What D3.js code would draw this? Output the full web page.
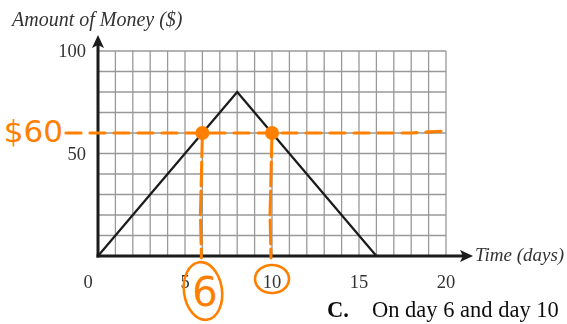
<!DOCTYPE html>
<html>
<head>
<meta charset="utf-8">
<script src="https://cdn.jsdelivr.net/npm/d3@7"></script>
<style>
  html, body { margin: 0; padding: 0; background: #fff; }
  svg { display: block; }
</style>
</head>
<body>
<svg id="chart" width="567" height="324"></svg>
<script>
// Money held over time: rises to a peak, then falls back to zero
const days = [0, 8, 16];
const money = [0, 80, 0];

const xTicks = [0, 5, 10, 15, 20];
const yTicks = [50, 100];
const xGrid = d3.range(1, 21);          // one line per day
const yGrid = d3.range(10, 101, 10);    // one line per $10

// Marked level and the days when it is reached
const markLevel = 60;
const markDays = [6, 10];

const ink = "#1a1a1a";
const orange = "#ff8000";

const svg = d3.select("#chart");
const x = d3.scaleLinear().domain([0, 20]).range([98, 446]);
const y = d3.scaleLinear().domain([0, 100]).range([256, 51]);

// soft edge on the printed part of the figure
const defs = svg.append("defs");
defs.append("filter").attr("id", "soft")
  .append("feGaussianBlur").attr("stdDeviation", 0.45);

const print = svg.append("g").attr("filter", "url(#soft)");

// grid
print.append("g").selectAll("line").data(xGrid).join("line")
  .attr("x1", d => x(d)).attr("x2", d => x(d))
  .attr("y1", y(0)).attr("y2", y(100))
  .attr("stroke", "#999").attr("stroke-width", 1.3);
print.append("g").selectAll("line").data(yGrid).join("line")
  .attr("x1", x(0)).attr("x2", x(20))
  .attr("y1", d => y(d)).attr("y2", d => y(d))
  .attr("stroke", "#999").attr("stroke-width", 1.3);

// axes with arrowheads
print.append("line")
  .attr("x1", x(0)).attr("x2", x(0)).attr("y1", y(0) + 1.5).attr("y2", 44)
  .attr("stroke", ink).attr("stroke-width", 3);
print.append("path")
  .attr("d", `M${x(0)},35 L${x(0) - 6},48 L${x(0)},45 L${x(0) + 6},48 Z`)
  .attr("fill", ink);
print.append("line")
  .attr("x1", x(0) - 1.5).attr("x2", 464).attr("y1", y(0)).attr("y2", y(0))
  .attr("stroke", ink).attr("stroke-width", 3);
print.append("path")
  .attr("d", `M473,${y(0)} L460,${y(0) - 6} L463,${y(0)} L460,${y(0) + 6} Z`)
  .attr("fill", ink);

// the money line
const line = d3.line().x(d => x(d[0])).y(d => y(d[1]));
print.append("path")
  .datum(days.map((d, i) => [d, money[i]]))
  .attr("d", line)
  .attr("fill", "none").attr("stroke", ink).attr("stroke-width", 2.2)
  .attr("stroke-linejoin", "miter");

// tick labels
const serif = "'Liberation Serif', 'Times New Roman', serif";
print.append("g").selectAll("text").data(yTicks).join("text")
  .attr("x", 86).attr("y", d => y(d) + 6)
  .attr("text-anchor", "end")
  .attr("font-family", serif).attr("font-size", 18.5).attr("fill", "#333")
  .text(d => d);
print.append("g").selectAll("text").data(xTicks).join("text")
  .attr("x", d => x(d) + (d === 0 ? -10 : 0)).attr("y", 288)
  .attr("text-anchor", "middle")
  .attr("font-family", serif).attr("font-size", 18.5).attr("fill", "#333")
  .text(d => d);

// axis titles
print.append("text")
  .attr("x", 12).attr("y", 26)
  .attr("font-family", serif).attr("font-style", "italic").attr("font-size", 20)
  .attr("fill", "#333")
  .text("Amount of Money ($)");
print.append("text")
  .attr("x", 475).attr("y", 261)
  .attr("font-family", serif).attr("font-style", "italic").attr("font-size", 19)
  .attr("fill", "#333")
  .text("Time (days)");

// answer line
const answer = print.append("text")
  .attr("x", 327).attr("y", 317)
  .attr("font-family", serif).attr("font-size", 22.5).attr("fill", "#111");
answer.append("tspan").attr("font-weight", "bold").text("C.");
answer.append("tspan").attr("x", 372).text("On day 6 and day 10");

// hand-drawn markings
const marks = svg.append("g").attr("stroke-linecap", "round");

marks.append("text")
  .attr("x", 63).attr("y", 142)
  .attr("text-anchor", "end")
  .attr("font-family", "'DejaVu Sans', sans-serif").attr("font-size", 31)
  .attr("fill", orange)
  .text("$60");

// dashed level line across the chart
marks.append("path")
  .attr("d", `M66,${y(markLevel)} L${x(18)},${y(markLevel)} L${x(20)},${y(markLevel) - 2}`)
  .attr("fill", "none").attr("stroke", orange).attr("stroke-width", 3.2)
  .attr("stroke-dasharray", "15 9");

// drop lines from the crossings down to the time axis
marks.append("g").selectAll("path").data(markDays).join("path")
  .attr("d", d => `M${x(d)},${y(markLevel)} L${x(d) - 2},${y(20)} L${x(d) - 1},${y(0) + 2}`)
  .attr("fill", "none").attr("stroke", orange).attr("stroke-width", 3)
  .attr("stroke-dasharray", "24 5");

// crossing points
marks.append("g").selectAll("circle").data(markDays).join("circle")
  .attr("cx", d => x(d)).attr("cy", y(markLevel)).attr("r", 7)
  .attr("fill", orange);

// circled day numbers
marks.append("ellipse")
  .attr("cx", 203).attr("cy", 291).attr("rx", 19).attr("ry", 29)
  .attr("transform", "rotate(-8 203 291)")
  .attr("fill", "none").attr("stroke", orange).attr("stroke-width", 2.6);
marks.append("text")
  .attr("x", 205).attr("y", 306)
  .attr("text-anchor", "middle")
  .attr("font-family", "'DejaVu Sans', sans-serif").attr("font-size", 40)
  .attr("fill", orange)
  .text("6");
marks.append("ellipse")
  .attr("cx", 272).attr("cy", 279).attr("rx", 17).attr("ry", 14)
  .attr("fill", "none").attr("stroke", orange).attr("stroke-width", 2.6);
</script>
</body>
</html>
